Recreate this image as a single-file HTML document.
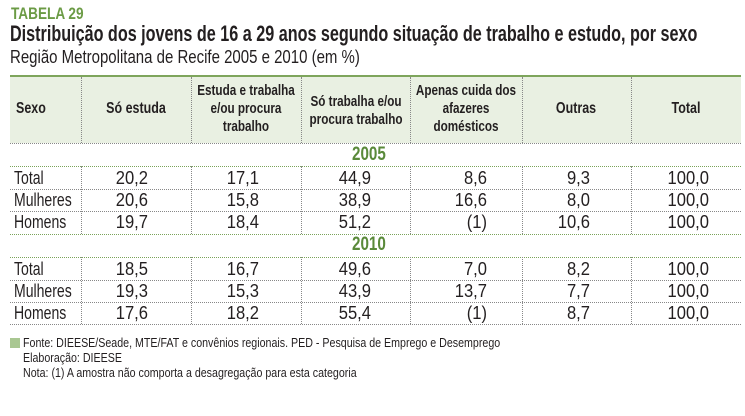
<!DOCTYPE html>
<html><head><meta charset="utf-8"><style>
*{margin:0;padding:0;box-sizing:border-box}
body{width:745px;height:416px;background:#fff;position:relative;overflow:hidden;font-family:"Liberation Sans",sans-serif;color:#231f20}
.a{position:absolute;white-space:nowrap;transform-origin:left top}
.h{position:absolute;font-weight:bold;font-size:15px;line-height:18px;text-align:center;white-space:nowrap;transform:scaleX(.78);transform-origin:center top}
.hl{position:absolute;left:10px;width:731px;height:0;border-top:1px dotted #888}
.g{border-top:1px dotted #7aa35a}
.v{position:absolute;width:0;border-left:1px dotted #888}
.n{position:absolute;font-size:18px;line-height:22px;text-align:right;transform:scaleX(.92);transform-origin:right top}
.l{position:absolute;left:14px;font-size:18px;line-height:22px;transform:scaleX(.78);transform-origin:left top;white-space:nowrap}
.y{position:absolute;left:352px;font-size:19px;font-weight:bold;color:#5a8a3a;line-height:22px;transform:scaleX(.8);transform-origin:left top}
</style></head><body>
<div class="a" style="left:11px;top:4px;font-size:17px;font-weight:bold;color:#6b9b45;transform:scaleX(.8)">TABELA 29</div>
<div class="a" style="left:10px;top:21px;font-size:22px;font-weight:bold;transform:scaleX(.735)">Distribuição dos jovens de 16 a 29 anos segundo situação de trabalho e estudo, por sexo</div>
<div class="a" style="left:10px;top:46px;font-size:18.5px;transform:scaleX(.81)">Região Metropolitana de Recife 2005 e 2010 (em %)</div>
<div class="a" style="left:10px;top:75px;width:731px;height:68px;background:#e9f0e2;border-top:2px solid #7ea55c"></div>
<div class="v" style="left:81px;top:77px;height:66px"></div>
<div class="v" style="left:191px;top:77px;height:66px"></div>
<div class="v" style="left:301px;top:77px;height:66px"></div>
<div class="v" style="left:410px;top:77px;height:66px"></div>
<div class="v" style="left:522px;top:77px;height:66px"></div>
<div class="v" style="left:631px;top:77px;height:66px"></div>
<div class="h" style="left:16px;top:100px;font-size:16px;text-align:left;transform-origin:left top">Sexo</div>
<div class="h" style="left:66px;width:140px;top:100px;font-size:16px">Só estuda</div>
<div class="h" style="left:176px;width:140px;top:82px">Estuda e trabalha<br>e/ou procura<br>trabalho</div>
<div class="h" style="left:286px;width:140px;top:93px">Só trabalha e/ou<br>procura trabalho</div>
<div class="h" style="left:396px;width:140px;top:82px">Apenas cuida dos<br>afazeres<br>domésticos</div>
<div class="h" style="left:506px;width:140px;top:100px;font-size:16px">Outras</div>
<div class="h" style="left:616px;width:140px;top:100px;font-size:16px">Total</div>
<div class="hl" style="top:143px"></div>
<div class="y" style="top:144px">2005</div>
<div class="hl g" style="top:166px"></div>
<div class="hl" style="top:189px"></div>
<div class="hl" style="top:211px"></div>
<div class="hl g" style="top:234px"></div>
<div class="y" style="top:234px">2010</div>
<div class="hl g" style="top:257px"></div>
<div class="hl" style="top:280px"></div>
<div class="hl" style="top:302px"></div>
<div class="hl" style="top:324px"></div>
<div class="v" style="left:81px;top:166px;height:68px"></div><div class="v" style="left:191px;top:166px;height:68px"></div><div class="v" style="left:301px;top:166px;height:68px"></div><div class="v" style="left:410px;top:166px;height:68px"></div><div class="v" style="left:522px;top:166px;height:68px"></div><div class="v" style="left:631px;top:166px;height:68px"></div>
<div class="v" style="left:81px;top:257px;height:67px"></div><div class="v" style="left:191px;top:257px;height:67px"></div><div class="v" style="left:301px;top:257px;height:67px"></div><div class="v" style="left:410px;top:257px;height:67px"></div><div class="v" style="left:522px;top:257px;height:67px"></div><div class="v" style="left:631px;top:257px;height:67px"></div>
<div id="rows"></div>
<div class="l" style="top:167px">Total</div><div class="l" style="top:189px">Mulheres</div><div class="l" style="top:211px">Homens</div>
<div class="l" style="top:258px">Total</div><div class="l" style="top:280px">Mulheres</div><div class="l" style="top:302px">Homens</div>
<script>
var d=[[167,["20,2","17,1","44,9","8,6","9,3","100,0"]],[189,["20,6","15,8","38,9","16,6","8,0","100,0"]],[211,["19,7","18,4","51,2","(1)","10,6","100,0"]],[258,["18,5","16,7","49,6","7,0","8,2","100,0"]],[280,["19,3","15,3","43,9","13,7","7,7","100,0"]],[302,["17,6","18,2","55,4","(1)","8,7","100,0"]]];
var r=[148,259,371,487,590,709],h="";
d.forEach(function(x){x[1].forEach(function(v,i){h+='<div class="n" style="top:'+x[0]+'px;left:'+(r[i]-80)+'px;width:80px">'+v+'</div>';});});
document.getElementById("rows").innerHTML=h;
</script>
<div class="a" style="left:10px;top:338px;width:10px;height:10px;background:#a9c792"></div>
<div class="a" style="left:23px;top:335px;font-size:13px;line-height:15px;transform:scaleX(.82)">Fonte: DIEESE/Seade, MTE/FAT e convênios regionais. PED - Pesquisa de Emprego e Desemprego<br>Elaboração: DIEESE<br>Nota: (1) A amostra não comporta a desagregação para esta categoria</div>
</body></html>
